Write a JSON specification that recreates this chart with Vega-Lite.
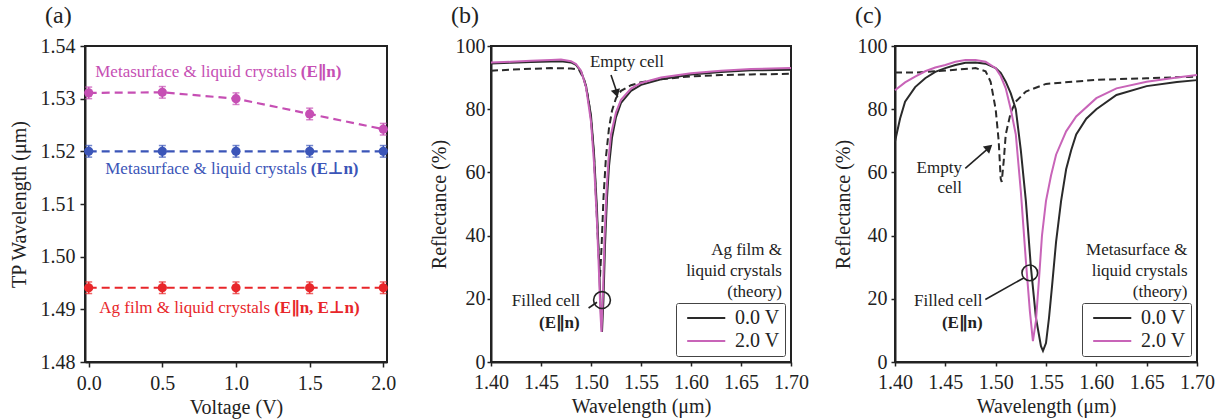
{
  "$schema": "https://vega.github.io/schema/vega-lite/v6.json",
  "padding": {"left": 8, "top": 3, "right": 5, "bottom": 5},
  "background": "white",
  "config": {
    "font": "Liberation Serif",
    "view": {"stroke": "#222", "strokeWidth": 2},
    "axis": {
      "domainColor": "#222", "domainWidth": 2,
      "tickColor": "#222", "tickWidth": 1.5,
      "labelFont": "Liberation Serif", "labelFontSize": 20, "labelColor": "#222",
      "labelOverlap": false, "labelFlush": false,
      "titleFont": "Liberation Serif", "titleFontSize": 20, "titleFontWeight": "normal", "titleColor": "#222",
      "grid": false
    },
    "title": {"font": "Liberation Serif", "fontSize": 24, "fontWeight": "normal", "color": "#222", "anchor": "start", "frame": "group", "dx": -40, "offset": 8},
    "text": {"font": "Liberation Serif"}
  },
  "datasets": {
    "tp": [
      {"series": "meta_par", "v": 0.0, "wl": 1.5311, "err": 0.0011},
      {"series": "meta_par", "v": 0.5, "wl": 1.5312, "err": 0.0011},
      {"series": "meta_par", "v": 1.0, "wl": 1.5300, "err": 0.0011},
      {"series": "meta_par", "v": 1.5, "wl": 1.5271, "err": 0.0011},
      {"series": "meta_par", "v": 2.0, "wl": 1.5242, "err": 0.0011},
      {"series": "meta_perp", "v": 0.0, "wl": 1.5200, "err": 0.0011},
      {"series": "meta_perp", "v": 0.5, "wl": 1.5200, "err": 0.0011},
      {"series": "meta_perp", "v": 1.0, "wl": 1.5200, "err": 0.0011},
      {"series": "meta_perp", "v": 1.5, "wl": 1.5200, "err": 0.0011},
      {"series": "meta_perp", "v": 2.0, "wl": 1.5200, "err": 0.0011},
      {"series": "ag", "v": 0.0, "wl": 1.4941, "err": 0.0011},
      {"series": "ag", "v": 0.5, "wl": 1.4941, "err": 0.0011},
      {"series": "ag", "v": 1.0, "wl": 1.4941, "err": 0.0011},
      {"series": "ag", "v": 1.5, "wl": 1.4941, "err": 0.0011},
      {"series": "ag", "v": 2.0, "wl": 1.4941, "err": 0.0011}
    ],
    "tp_labels": [
      {"series": "meta_par", "v": 1.44, "wl": 1.53505, "plain": "Metasurface & liquid crystals", "bold": "(E∥n)"},
      {"series": "meta_perp", "v": 1.508, "wl": 1.51657, "plain": "Metasurface & liquid crystals", "bold": "(E⊥n)"},
      {"series": "ag", "v": 1.259, "wl": 1.49029, "plain": "Ag film & liquid crystals", "bold": "(E∥n, E⊥n)"}
    ],
    "ag_spectra": [
      {"series": "0.0 V", "wl": 1.40, "R": 94.5}, {"series": "0.0 V", "wl": 1.42, "R": 94.7},
      {"series": "0.0 V", "wl": 1.44, "R": 94.9}, {"series": "0.0 V", "wl": 1.46, "R": 95.1},
      {"series": "0.0 V", "wl": 1.47, "R": 95.2}, {"series": "0.0 V", "wl": 1.48, "R": 94.8},
      {"series": "0.0 V", "wl": 1.485, "R": 94.0}, {"series": "0.0 V", "wl": 1.49, "R": 92.0},
      {"series": "0.0 V", "wl": 1.495, "R": 87.5}, {"series": "0.0 V", "wl": 1.50, "R": 78},
      {"series": "0.0 V", "wl": 1.503, "R": 66}, {"series": "0.0 V", "wl": 1.506, "R": 48},
      {"series": "0.0 V", "wl": 1.508, "R": 32}, {"series": "0.0 V", "wl": 1.5095, "R": 18},
      {"series": "0.0 V", "wl": 1.511, "R": 9.5}, {"series": "0.0 V", "wl": 1.5125, "R": 20},
      {"series": "0.0 V", "wl": 1.514, "R": 37}, {"series": "0.0 V", "wl": 1.516, "R": 52},
      {"series": "0.0 V", "wl": 1.518, "R": 62}, {"series": "0.0 V", "wl": 1.521, "R": 71},
      {"series": "0.0 V", "wl": 1.525, "R": 77.5}, {"series": "0.0 V", "wl": 1.53, "R": 82},
      {"series": "0.0 V", "wl": 1.54, "R": 85.8}, {"series": "0.0 V", "wl": 1.55, "R": 87.7},
      {"series": "0.0 V", "wl": 1.57, "R": 89.5}, {"series": "0.0 V", "wl": 1.60, "R": 91},
      {"series": "0.0 V", "wl": 1.63, "R": 91.8}, {"series": "0.0 V", "wl": 1.66, "R": 92.3},
      {"series": "0.0 V", "wl": 1.70, "R": 92.5},
      {"series": "2.0 V", "wl": 1.40, "R": 94.8}, {"series": "2.0 V", "wl": 1.42, "R": 95.0},
      {"series": "2.0 V", "wl": 1.44, "R": 95.3}, {"series": "2.0 V", "wl": 1.46, "R": 95.6},
      {"series": "2.0 V", "wl": 1.47, "R": 95.7}, {"series": "2.0 V", "wl": 1.48, "R": 95.2},
      {"series": "2.0 V", "wl": 1.485, "R": 94.3}, {"series": "2.0 V", "wl": 1.49, "R": 92.2},
      {"series": "2.0 V", "wl": 1.495, "R": 87}, {"series": "2.0 V", "wl": 1.50, "R": 76},
      {"series": "2.0 V", "wl": 1.503, "R": 63}, {"series": "2.0 V", "wl": 1.506, "R": 44},
      {"series": "2.0 V", "wl": 1.508, "R": 28}, {"series": "2.0 V", "wl": 1.5095, "R": 15},
      {"series": "2.0 V", "wl": 1.5105, "R": 9.5}, {"series": "2.0 V", "wl": 1.512, "R": 22},
      {"series": "2.0 V", "wl": 1.5135, "R": 39}, {"series": "2.0 V", "wl": 1.5155, "R": 54},
      {"series": "2.0 V", "wl": 1.5175, "R": 64}, {"series": "2.0 V", "wl": 1.52, "R": 72},
      {"series": "2.0 V", "wl": 1.525, "R": 79}, {"series": "2.0 V", "wl": 1.53, "R": 83},
      {"series": "2.0 V", "wl": 1.54, "R": 86.5}, {"series": "2.0 V", "wl": 1.55, "R": 88.3},
      {"series": "2.0 V", "wl": 1.57, "R": 90}, {"series": "2.0 V", "wl": 1.60, "R": 91.4},
      {"series": "2.0 V", "wl": 1.63, "R": 92.2}, {"series": "2.0 V", "wl": 1.66, "R": 92.7},
      {"series": "2.0 V", "wl": 1.70, "R": 93},
      {"series": "empty", "wl": 1.40, "R": 92.2}, {"series": "empty", "wl": 1.42, "R": 92.5},
      {"series": "empty", "wl": 1.44, "R": 92.8}, {"series": "empty", "wl": 1.46, "R": 93.0},
      {"series": "empty", "wl": 1.48, "R": 92.9}, {"series": "empty", "wl": 1.488, "R": 92.5},
      {"series": "empty", "wl": 1.493, "R": 89.5}, {"series": "empty", "wl": 1.497, "R": 84},
      {"series": "empty", "wl": 1.50, "R": 77}, {"series": "empty", "wl": 1.503, "R": 65},
      {"series": "empty", "wl": 1.505, "R": 52}, {"series": "empty", "wl": 1.507, "R": 38},
      {"series": "empty", "wl": 1.509, "R": 27}, {"series": "empty", "wl": 1.5105, "R": 36},
      {"series": "empty", "wl": 1.5125, "R": 52}, {"series": "empty", "wl": 1.515, "R": 65},
      {"series": "empty", "wl": 1.518, "R": 74}, {"series": "empty", "wl": 1.521, "R": 79.5},
      {"series": "empty", "wl": 1.525, "R": 83.5}, {"series": "empty", "wl": 1.53, "R": 85.8},
      {"series": "empty", "wl": 1.54, "R": 87.6}, {"series": "empty", "wl": 1.55, "R": 88.5},
      {"series": "empty", "wl": 1.57, "R": 89.5}, {"series": "empty", "wl": 1.60, "R": 90.4},
      {"series": "empty", "wl": 1.63, "R": 90.8}, {"series": "empty", "wl": 1.66, "R": 91},
      {"series": "empty", "wl": 1.70, "R": 91.2}
    ],
    "meta_spectra": [
      {"series": "0.0 V", "wl": 1.40, "R": 69.8}, {"series": "0.0 V", "wl": 1.405, "R": 77},
      {"series": "0.0 V", "wl": 1.41, "R": 82.4}, {"series": "0.0 V", "wl": 1.42, "R": 87},
      {"series": "0.0 V", "wl": 1.43, "R": 89.8}, {"series": "0.0 V", "wl": 1.44, "R": 91.8},
      {"series": "0.0 V", "wl": 1.45, "R": 93}, {"series": "0.0 V", "wl": 1.46, "R": 94},
      {"series": "0.0 V", "wl": 1.47, "R": 94.7}, {"series": "0.0 V", "wl": 1.48, "R": 94.8},
      {"series": "0.0 V", "wl": 1.49, "R": 94.4}, {"series": "0.0 V", "wl": 1.50, "R": 93},
      {"series": "0.0 V", "wl": 1.505, "R": 91.5}, {"series": "0.0 V", "wl": 1.51, "R": 88.7},
      {"series": "0.0 V", "wl": 1.515, "R": 85}, {"series": "0.0 V", "wl": 1.52, "R": 80},
      {"series": "0.0 V", "wl": 1.525, "R": 67}, {"series": "0.0 V", "wl": 1.53, "R": 51},
      {"series": "0.0 V", "wl": 1.535, "R": 30}, {"series": "0.0 V", "wl": 1.54, "R": 14},
      {"series": "0.0 V", "wl": 1.545, "R": 5}, {"series": "0.0 V", "wl": 1.547, "R": 3.5},
      {"series": "0.0 V", "wl": 1.55, "R": 6}, {"series": "0.0 V", "wl": 1.553, "R": 14},
      {"series": "0.0 V", "wl": 1.556, "R": 24}, {"series": "0.0 V", "wl": 1.56, "R": 38},
      {"series": "0.0 V", "wl": 1.565, "R": 51}, {"series": "0.0 V", "wl": 1.57, "R": 61},
      {"series": "0.0 V", "wl": 1.575, "R": 67}, {"series": "0.0 V", "wl": 1.58, "R": 72},
      {"series": "0.0 V", "wl": 1.59, "R": 77}, {"series": "0.0 V", "wl": 1.60, "R": 80},
      {"series": "0.0 V", "wl": 1.62, "R": 84.5}, {"series": "0.0 V", "wl": 1.65, "R": 87.3},
      {"series": "0.0 V", "wl": 1.68, "R": 88.6}, {"series": "0.0 V", "wl": 1.70, "R": 89.2},
      {"series": "2.0 V", "wl": 1.40, "R": 86}, {"series": "2.0 V", "wl": 1.41, "R": 88.5},
      {"series": "2.0 V", "wl": 1.42, "R": 90.3}, {"series": "2.0 V", "wl": 1.43, "R": 92},
      {"series": "2.0 V", "wl": 1.44, "R": 93.2}, {"series": "2.0 V", "wl": 1.45, "R": 94},
      {"series": "2.0 V", "wl": 1.46, "R": 95}, {"series": "2.0 V", "wl": 1.47, "R": 95.6},
      {"series": "2.0 V", "wl": 1.48, "R": 95.6}, {"series": "2.0 V", "wl": 1.49, "R": 95},
      {"series": "2.0 V", "wl": 1.50, "R": 93}, {"series": "2.0 V", "wl": 1.505, "R": 90.5},
      {"series": "2.0 V", "wl": 1.51, "R": 86.6}, {"series": "2.0 V", "wl": 1.515, "R": 80},
      {"series": "2.0 V", "wl": 1.52, "R": 72}, {"series": "2.0 V", "wl": 1.525, "R": 54},
      {"series": "2.0 V", "wl": 1.53, "R": 32}, {"series": "2.0 V", "wl": 1.534, "R": 16},
      {"series": "2.0 V", "wl": 1.537, "R": 6.6}, {"series": "2.0 V", "wl": 1.54, "R": 13},
      {"series": "2.0 V", "wl": 1.543, "R": 26}, {"series": "2.0 V", "wl": 1.546, "R": 40},
      {"series": "2.0 V", "wl": 1.55, "R": 51}, {"series": "2.0 V", "wl": 1.555, "R": 59},
      {"series": "2.0 V", "wl": 1.56, "R": 65.6}, {"series": "2.0 V", "wl": 1.57, "R": 73},
      {"series": "2.0 V", "wl": 1.58, "R": 77.7}, {"series": "2.0 V", "wl": 1.60, "R": 83.5},
      {"series": "2.0 V", "wl": 1.62, "R": 86.6}, {"series": "2.0 V", "wl": 1.65, "R": 88.7},
      {"series": "2.0 V", "wl": 1.68, "R": 90}, {"series": "2.0 V", "wl": 1.70, "R": 90.8},
      {"series": "empty", "wl": 1.40, "R": 91.6}, {"series": "empty", "wl": 1.42, "R": 91.6},
      {"series": "empty", "wl": 1.44, "R": 92}, {"series": "empty", "wl": 1.46, "R": 92.5},
      {"series": "empty", "wl": 1.48, "R": 93}, {"series": "empty", "wl": 1.49, "R": 92},
      {"series": "empty", "wl": 1.495, "R": 88.7}, {"series": "empty", "wl": 1.50, "R": 80},
      {"series": "empty", "wl": 1.503, "R": 70}, {"series": "empty", "wl": 1.505, "R": 58},
      {"series": "empty", "wl": 1.506, "R": 57}, {"series": "empty", "wl": 1.508, "R": 63.6},
      {"series": "empty", "wl": 1.51, "R": 72}, {"series": "empty", "wl": 1.515, "R": 79},
      {"series": "empty", "wl": 1.52, "R": 82.4}, {"series": "empty", "wl": 1.53, "R": 85.6},
      {"series": "empty", "wl": 1.55, "R": 88}, {"series": "empty", "wl": 1.60, "R": 89.3},
      {"series": "empty", "wl": 1.65, "R": 89.8}, {"series": "empty", "wl": 1.70, "R": 90.3}
    ]
  },
  "bounds": "flush",
  "spacing": 104,
  "resolve": {"scale": {"color": "independent"}, "legend": {"color": "independent"}},
  "hconcat": [
    {
      "width": 302, "height": 316,
      "title": {"text": "(a)"},
      "layer": [
        {
          "data": {"name": "tp"},
          "mark": {"type": "line", "strokeDash": [8, 5], "strokeWidth": 2.2},
          "encoding": {
            "x": {"field": "v", "type": "quantitative", "title": "Voltage (V)",
              "scale": {"domain": [-0.025, 2.025], "nice": false, "zero": false},
              "axis": {
                "values": [0, 0.25, 0.5, 0.75, 1, 1.25, 1.5, 1.75, 2],
                "labelExpr": "round(datum.value*4) % 2 == 0 ? format(datum.value, '.1f') : ''",
                "tickSize": {"condition": {"test": "round(datum.value*4) % 2 == 0", "value": 5}, "value": 3},
                "labelPadding": 6, "titlePadding": 4}},
            "y": {"field": "wl", "type": "quantitative", "title": "TP Wavelength (μm)",
              "scale": {"domain": [1.48, 1.54], "nice": false, "zero": false},
              "axis": {
                "values": [1.48, 1.485, 1.49, 1.495, 1.5, 1.505, 1.51, 1.515, 1.52, 1.525, 1.53, 1.535, 1.54],
                "labelExpr": "round(datum.value*1000) % 10 == 0 ? format(datum.value, '.2f') : ''",
                "tickSize": {"condition": {"test": "round(datum.value*1000) % 10 == 0", "value": 5}, "value": 3},
                "labelPadding": 5, "titleX": -66, "titleBaseline": "middle"}},
            "color": {"field": "series", "type": "nominal",
              "scale": {"domain": ["meta_par", "meta_perp", "ag"], "range": ["#c64fb4", "#3b55b8", "#e8262a"]},
              "legend": null},
            "detail": {"field": "series"}
          }
        },
        {
          "data": {"name": "tp"},
          "mark": {"type": "errorbar", "ticks": {"size": 7, "thickness": 1.5}, "thickness": 1.5},
          "encoding": {
            "x": {"field": "v", "type": "quantitative", "title": "Voltage (V)"},
            "y": {"field": "wl", "type": "quantitative", "title": "TP Wavelength (μm)"},
            "yError": {"field": "err"},
            "color": {"field": "series", "type": "nominal", "legend": null}
          }
        },
        {
          "data": {"name": "tp"},
          "mark": {"type": "point", "filled": true, "size": 85, "opacity": 1},
          "encoding": {
            "x": {"field": "v", "type": "quantitative", "title": "Voltage (V)"},
            "y": {"field": "wl", "type": "quantitative", "title": "TP Wavelength (μm)"},
            "color": {"field": "series", "type": "nominal", "legend": null}
          }
        },
        {
          "data": {"name": "tp_labels"},
          "mark": {"type": "text", "align": "right", "baseline": "middle", "fontSize": 17, "dx": -4},
          "encoding": {
            "x": {"field": "v", "type": "quantitative", "title": "Voltage (V)"},
            "y": {"field": "wl", "type": "quantitative", "title": "TP Wavelength (μm)"},
            "text": {"field": "plain"},
            "color": {"field": "series", "type": "nominal", "legend": null}
          }
        },
        {
          "data": {"name": "tp_labels"},
          "mark": {"type": "text", "align": "left", "baseline": "middle", "fontSize": 17, "fontWeight": "bold", "font": "Liberation Serif, DejaVu Sans"},
          "encoding": {
            "x": {"field": "v", "type": "quantitative", "title": "Voltage (V)"},
            "y": {"field": "wl", "type": "quantitative", "title": "TP Wavelength (μm)"},
            "text": {"field": "bold"},
            "color": {"field": "series", "type": "nominal", "legend": null}
          }
        }
      ]
    },
    {
      "width": 300, "height": 316,
      "title": {"text": "(b)"},
      "layer": [
        {
          "data": {"name": "ag_spectra"},
          "transform": [{"filter": "datum.series == 'empty'"}],
          "mark": {"type": "line", "color": "#2a2a2a", "strokeDash": [7, 4], "strokeWidth": 2},
          "encoding": {
            "x": {"field": "wl", "type": "quantitative", "title": "Wavelength (μm)",
              "scale": {"domain": [1.40, 1.70], "nice": false, "zero": false},
              "axis": {
                "values": [1.4, 1.425, 1.45, 1.475, 1.5, 1.525, 1.55, 1.575, 1.6, 1.625, 1.65, 1.675, 1.7],
                "labelExpr": "round(datum.value*1000) % 50 == 0 ? format(datum.value, '.2f') : ''",
                "tickSize": {"condition": {"test": "round(datum.value*1000) % 50 == 0", "value": 4}, "value": 3},
                "labelPadding": 6, "titlePadding": 4}},
            "y": {"field": "R", "type": "quantitative", "title": "Reflectance (%)",
              "scale": {"domain": [0, 100], "nice": false},
              "axis": {
                "values": [0, 10, 20, 30, 40, 50, 60, 70, 80, 90, 100],
                "labelExpr": "datum.value % 20 == 0 ? datum.value : ''",
                "tickSize": {"condition": {"test": "datum.value % 20 == 0", "value": 4}, "value": 3},
                "labelPadding": 2, "titleX": -52, "titleBaseline": "middle"}}
          }
        },
        {
          "data": {"name": "ag_spectra"},
          "transform": [{"filter": "datum.series != 'empty'"}],
          "mark": {"type": "line", "strokeWidth": 2},
          "encoding": {
            "x": {"field": "wl", "type": "quantitative", "title": "Wavelength (μm)"},
            "y": {"field": "R", "type": "quantitative", "title": "Reflectance (%)"},
            "color": {"field": "series", "type": "nominal",
              "scale": {"domain": ["0.0 V", "2.0 V"], "range": ["#2a2a2a", "#c864b8"]},
              "legend": {"title": null, "orient": "bottom-right", "offset": 6,
                "strokeColor": "#444", "fillColor": "white", "padding": 5, "cornerRadius": 2,
                "symbolType": "M-1,0H9", "symbolSize": 58, "symbolStrokeWidth": 2.2,
                "labelFont": "Liberation Serif", "labelFontSize": 20, "labelColor": "#222",
                "labelOffset": 34, "rowPadding": 3}}
          }
        },
        {
          "data": {"values": [{"wl": 1.511, "R": 19.6}]},
          "mark": {"type": "point", "filled": false, "size": 283, "color": "#222", "strokeWidth": 1.6, "opacity": 1},
          "encoding": {"x": {"field": "wl", "type": "quantitative", "title": "Wavelength (μm)"}, "y": {"field": "R", "type": "quantitative", "title": "Reflectance (%)"}}
        },
        {
          "data": {"values": [
            {"wl": 1.4976, "R": 17.1, "wl2": 1.506, "R2": 18.9},
            {"wl": 1.520, "R": 90.8, "wl2": 1.5252, "R2": 86.0}
          ]},
          "mark": {"type": "rule", "color": "#222", "strokeWidth": 1.6},
          "encoding": {
            "x": {"field": "wl", "type": "quantitative", "title": "Wavelength (μm)"}, "y": {"field": "R", "type": "quantitative", "title": "Reflectance (%)"},
            "x2": {"field": "wl2"}, "y2": {"field": "R2"}
          }
        },
        {
          "data": {"values": [{"wl": 1.5255, "R": 85.0}]},
          "mark": {"type": "point", "shape": "triangle-down", "filled": true, "size": 90, "color": "#222", "angle": -16, "opacity": 1},
          "encoding": {"x": {"field": "wl", "type": "quantitative", "title": "Wavelength (μm)"}, "y": {"field": "R", "type": "quantitative", "title": "Reflectance (%)"}}
        },
        {
          "data": {"values": [
            {"wl": 1.691, "R": 35.3, "t": "Ag film &"},
            {"wl": 1.691, "R": 28.9, "t": "liquid crystals"},
            {"wl": 1.691, "R": 22.2, "t": "(theory)"},
            {"wl": 1.4893, "R": 19.2, "t": "Filled cell"}
          ]},
          "mark": {"type": "text", "align": "right", "baseline": "middle", "fontSize": 17, "color": "#222"},
          "encoding": {"x": {"field": "wl", "type": "quantitative", "title": "Wavelength (μm)"}, "y": {"field": "R", "type": "quantitative", "title": "Reflectance (%)"}, "text": {"field": "t"}}
        },
        {
          "data": {"values": [{"wl": 1.536, "R": 95.0, "t": "Empty cell"}]},
          "mark": {"type": "text", "align": "center", "baseline": "middle", "fontSize": 17, "color": "#222"},
          "encoding": {"x": {"field": "wl", "type": "quantitative", "title": "Wavelength (μm)"}, "y": {"field": "R", "type": "quantitative", "title": "Reflectance (%)"}, "text": {"field": "t"}}
        },
        {
          "data": {"values": [{"wl": 1.4886, "R": 12.4, "t": "(E∥n)"}]},
          "mark": {"type": "text", "align": "right", "baseline": "middle", "fontSize": 17, "fontWeight": "bold", "font": "Liberation Serif, DejaVu Sans", "color": "#222"},
          "encoding": {"x": {"field": "wl", "type": "quantitative", "title": "Wavelength (μm)"}, "y": {"field": "R", "type": "quantitative", "title": "Reflectance (%)"}, "text": {"field": "t"}}
        }
      ]
    },
    {
      "width": 302, "height": 316,
      "title": {"text": "(c)"},
      "layer": [
        {
          "data": {"name": "meta_spectra"},
          "transform": [{"filter": "datum.series == 'empty'"}],
          "mark": {"type": "line", "color": "#2a2a2a", "strokeDash": [7, 4], "strokeWidth": 2},
          "encoding": {
            "x": {"field": "wl", "type": "quantitative", "title": "Wavelength (μm)",
              "scale": {"domain": [1.40, 1.70], "nice": false, "zero": false},
              "axis": {
                "values": [1.4, 1.425, 1.45, 1.475, 1.5, 1.525, 1.55, 1.575, 1.6, 1.625, 1.65, 1.675, 1.7],
                "labelExpr": "round(datum.value*1000) % 50 == 0 ? format(datum.value, '.2f') : ''",
                "tickSize": {"condition": {"test": "round(datum.value*1000) % 50 == 0", "value": 4}, "value": 3},
                "labelPadding": 6, "titlePadding": 4}},
            "y": {"field": "R", "type": "quantitative", "title": "Reflectance (%)",
              "scale": {"domain": [0, 100], "nice": false},
              "axis": {
                "values": [0, 10, 20, 30, 40, 50, 60, 70, 80, 90, 100],
                "labelExpr": "datum.value % 20 == 0 ? datum.value : ''",
                "tickSize": {"condition": {"test": "datum.value % 20 == 0", "value": 4}, "value": 3},
                "labelPadding": 4, "titleX": -52, "titleBaseline": "middle"}}
          }
        },
        {
          "data": {"name": "meta_spectra"},
          "transform": [{"filter": "datum.series != 'empty'"}],
          "mark": {"type": "line", "strokeWidth": 2},
          "encoding": {
            "x": {"field": "wl", "type": "quantitative", "title": "Wavelength (μm)"},
            "y": {"field": "R", "type": "quantitative", "title": "Reflectance (%)"},
            "color": {"field": "series", "type": "nominal",
              "scale": {"domain": ["0.0 V", "2.0 V"], "range": ["#2a2a2a", "#c864b8"]},
              "legend": {"title": null, "orient": "bottom-right", "offset": 6,
                "strokeColor": "#444", "fillColor": "white", "padding": 5, "cornerRadius": 2,
                "symbolType": "M-1,0H9", "symbolSize": 58, "symbolStrokeWidth": 2.2,
                "labelFont": "Liberation Serif", "labelFontSize": 20, "labelColor": "#222",
                "labelOffset": 34, "rowPadding": 3}}
          }
        },
        {
          "data": {"values": [{"wl": 1.5339, "R": 28.2}]},
          "mark": {"type": "point", "filled": false, "size": 245, "color": "#222", "strokeWidth": 1.6, "opacity": 1},
          "encoding": {"x": {"field": "wl", "type": "quantitative", "title": "Wavelength (μm)"}, "y": {"field": "R", "type": "quantitative", "title": "Reflectance (%)"}}
        },
        {
          "data": {"values": [
            {"wl": 1.4897, "R": 19.8, "wl2": 1.5279, "R2": 26.6},
            {"wl": 1.4698, "R": 61.3, "wl2": 1.4915, "R2": 67.3}
          ]},
          "mark": {"type": "rule", "color": "#222", "strokeWidth": 1.6},
          "encoding": {
            "x": {"field": "wl", "type": "quantitative", "title": "Wavelength (μm)"}, "y": {"field": "R", "type": "quantitative", "title": "Reflectance (%)"},
            "x2": {"field": "wl2"}, "y2": {"field": "R2"}
          }
        },
        {
          "data": {"values": [{"wl": 1.4935, "R": 67.9}]},
          "mark": {"type": "point", "shape": "triangle-up", "filled": true, "size": 90, "color": "#222", "angle": 49, "opacity": 1},
          "encoding": {"x": {"field": "wl", "type": "quantitative", "title": "Wavelength (μm)"}, "y": {"field": "R", "type": "quantitative", "title": "Reflectance (%)"}}
        },
        {
          "data": {"values": [
            {"wl": 1.4665, "R": 61.3, "t": "Empty"},
            {"wl": 1.4665, "R": 55.0, "t": "cell"},
            {"wl": 1.6906, "R": 35.3, "t": "Metasurface &"},
            {"wl": 1.6906, "R": 28.9, "t": "liquid crystals"},
            {"wl": 1.6906, "R": 22.2, "t": "(theory)"},
            {"wl": 1.487, "R": 19.2, "t": "Filled cell"}
          ]},
          "mark": {"type": "text", "align": "right", "baseline": "middle", "fontSize": 17, "color": "#222"},
          "encoding": {"x": {"field": "wl", "type": "quantitative", "title": "Wavelength (μm)"}, "y": {"field": "R", "type": "quantitative", "title": "Reflectance (%)"}, "text": {"field": "t"}}
        },
        {
          "data": {"values": [{"wl": 1.487, "R": 12.4, "t": "(E∥n)"}]},
          "mark": {"type": "text", "align": "right", "baseline": "middle", "fontSize": 17, "fontWeight": "bold", "font": "Liberation Serif, DejaVu Sans", "color": "#222"},
          "encoding": {"x": {"field": "wl", "type": "quantitative", "title": "Wavelength (μm)"}, "y": {"field": "R", "type": "quantitative", "title": "Reflectance (%)"}, "text": {"field": "t"}}
        }
      ]
    }
  ]
}
